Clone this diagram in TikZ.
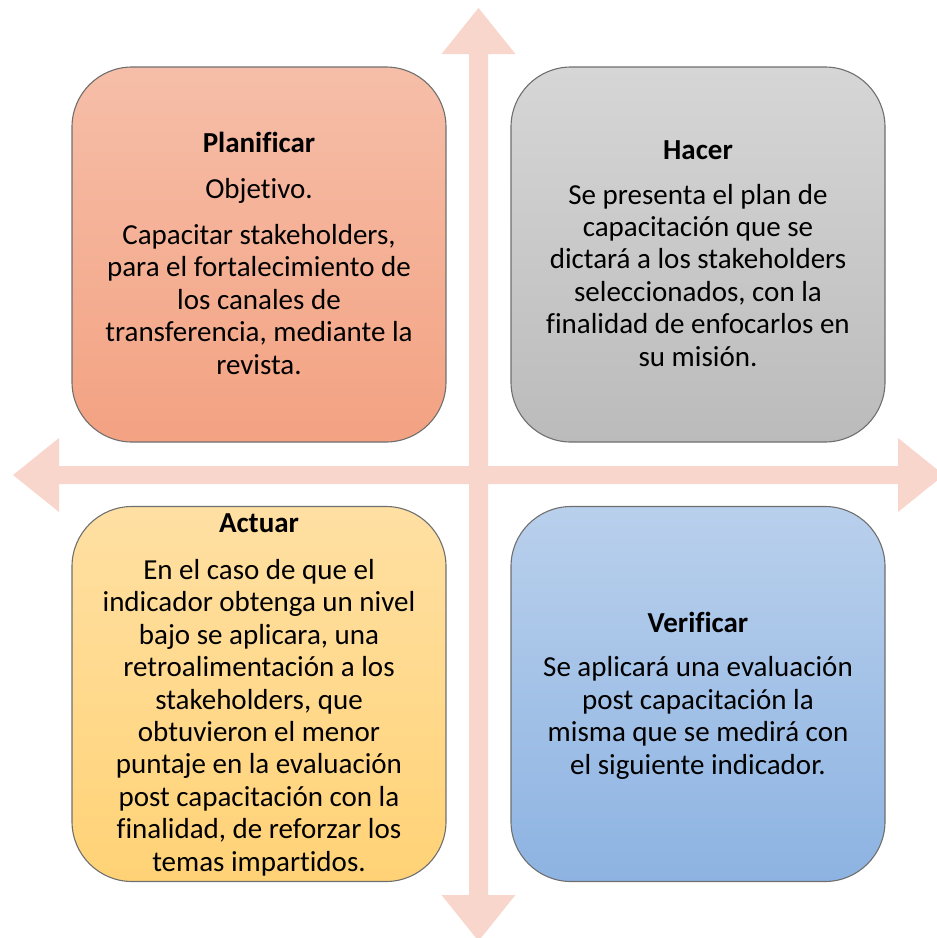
\documentclass[tikz,border=0pt]{standalone}
\usepackage{fontspec}
\setmainfont{Carlito}[RawFeature={-liga;-clig;-calt;-dlig}]
\definecolor{arrowfill}{HTML}{F8D6CC}
\definecolor{plantop}{HTML}{F6BEA8}
\definecolor{planbot}{HTML}{F3A282}
\definecolor{hactop}{HTML}{D6D6D6}
\definecolor{hacbot}{HTML}{BBBBBB}
\definecolor{acttop}{HTML}{FFE0A3}
\definecolor{actbot}{HTML}{FFD276}
\definecolor{vertop}{HTML}{B9D0EC}
\definecolor{verbot}{HTML}{8DB3E2}
\definecolor{boxedge}{HTML}{6F6F6F}
\tikzset{
  quadbox/.style={draw=boxedge, line width=1.1pt, rounded corners=60pt,
    minimum width=374pt, minimum height=375pt, inner sep=0pt},
  quadtext/.style={align=center, anchor=base, inner sep=0pt,
    font=\fontsize{29}{32.4}\selectfont},
  bigarrow/.style={fill=arrowfill, draw=none}
}
\begin{document}
\begin{tikzpicture}[x=1pt,y=-1pt]
\useasboundingbox (0,0) rectangle (937,938);
% cross of arrows
\fill[bigarrow] (478.5,8) -- (515.5,54) -- (488,54) -- (488,895) -- (515.5,895)
  -- (478.5,941) -- (441.5,895) -- (469,895) -- (469,54) -- (441.5,54) -- cycle;
\fill[bigarrow] (13,475) -- (59,438) -- (59,466) -- (898,466) -- (898,438)
  -- (944,475) -- (898,512) -- (898,484) -- (59,484) -- (59,512) -- cycle;
% boxes
\node[quadbox, top color=plantop, bottom color=planbot] (plan) at (259,254.5) {};
\node[quadbox, top color=hactop, bottom color=hacbot] (hacer) at (698,254.5) {};
\node[quadbox, top color=acttop, bottom color=actbot] (actuar) at (259,694) {};
\node[quadbox, top color=vertop, bottom color=verbot] (verif) at (698,694) {};
% texts (anchored at the baseline of their last line)
\node[quadtext] (plantxt) at (259,374) {\textbf{Planificar}\\[13pt]
  Objetivo.\\[14pt]
  Capacitar stakeholders,\\
  para el fortalecimiento de\\
  los canales de\\
  transferencia, mediante la\\
  revista.};
\node[quadtext] (hacertxt) at (698,366) {\textbf{Hacer}\\[12pt]
  Se presenta el plan de\\
  capacitación que se\\
  dictará a los stakeholders\\
  seleccionados, con la\\
  finalidad de enfocarlos en\\
  su misión.};
\node[quadtext] (actuartxt) at (259,871) {\textbf{Actuar}\\[15pt]
  En el caso de que el\\
  indicador obtenga un nivel\\
  bajo se aplicara, una\\
  retroalimentación a los\\
  stakeholders, que\\
  obtuvieron el menor\\
  puntaje en la evaluación\\
  post capacitación con la\\
  finalidad, de reforzar los\\
  temas impartidos.};
\node[quadtext] (veriftxt) at (698,774) {\textbf{Verificar}\\[12pt]
  Se aplicará una evaluación\\
  post capacitación la\\
  misma que se medirá con\\
  el siguiente indicador.};
\end{tikzpicture}
\end{document}
